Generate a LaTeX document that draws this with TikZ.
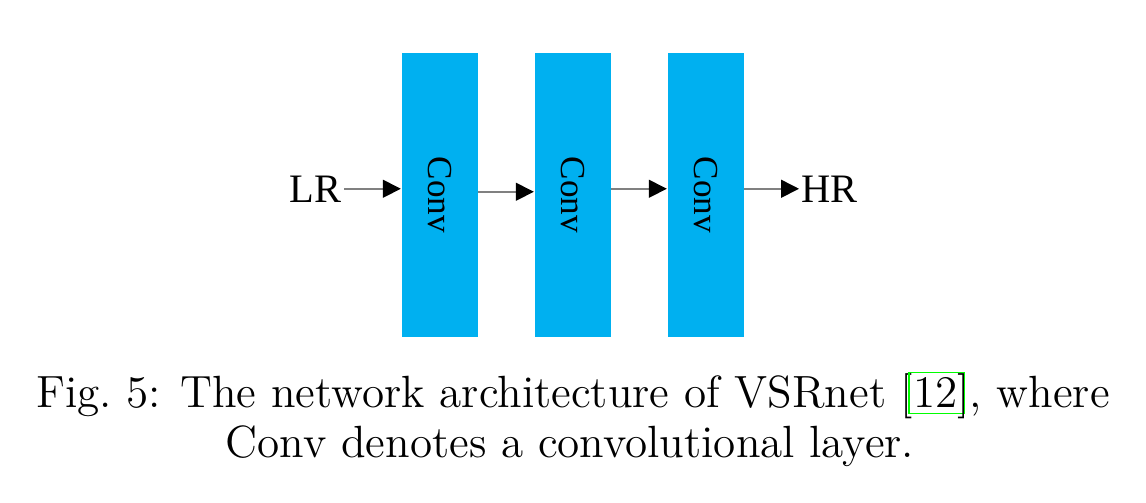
\documentclass[tikz,border=0pt]{standalone}
\usepackage{graphicx}
\usepackage{fontspec}
\newfontfamily\timesfont{Liberation Serif}
\usetikzlibrary{arrows.meta}
\definecolor{convblue}{RGB}{0,176,240}
\definecolor{citegreen}{RGB}{0,255,0}
\newcommand{\citefr}[1]{\makebox[0pt][l]{\hspace{-1.4pt}\color{citegreen}\setlength{\fboxsep}{0pt}\setlength{\fboxrule}{0.35pt}\fbox{\rule[-1.7pt]{0pt}{11.4pt}\hspace{1.4pt}\phantom{#1}\hspace{1.4pt}}}#1}

\begin{document}
\begin{tikzpicture}[
    conv/.style={fill=convblue,minimum width=0.76cm,minimum height=2.84cm,inner sep=0,font=\timesfont\fontsize{10}{12}\selectfont},
    io/.style={inner xsep=0.2mm,inner ysep=0,font=\timesfont\fontsize{11.5}{13}\selectfont},
    flow/.style={draw=gray,line width=0.45pt,-{Triangle[length=1.8mm,width=1.8mm,color=black,fill=black]}},
    caption/.style={inner sep=0,font=\fontsize{12.85}{15}\selectfont}]
    \useasboundingbox (0,0) rectangle (11.46,5.02);
    \node[conv] (conv1) at (4.395,3.07) {\rotatebox{-90}{Conv}};
    \node[conv] (conv2) at (5.725,3.07) {\rotatebox{-90}{Conv}};
    \node[conv] (conv3) at (7.055,3.07) {\rotatebox{-90}{Conv}};
    \node[io,anchor=base east] (lr) at (3.44,3.00) {LR};
    \node[io,anchor=base west] (hr) at (7.99,3.00) {HR};
    \draw[flow] (lr.east) -- (lr.east -| conv1.west);
    \draw[flow] ([yshift=-0.3mm]conv1.east |- lr.east) -- ([yshift=-0.3mm]lr.east -| conv2.west);
    \draw[flow] (conv2.east |- lr.east) -- (lr.east -| conv3.west);
    \draw[flow] (conv3.east |- lr.east) -- (hr.west);
    \node[caption,anchor=base] (cap1) at (5.73,0.95) {Fig.~5: The network architecture of VSRnet [\citefr{12}], where};
    \node[caption,anchor=base] (cap2) at (5.70,0.45) {Conv denotes a convolutional layer.};
\end{tikzpicture}
\end{document}
